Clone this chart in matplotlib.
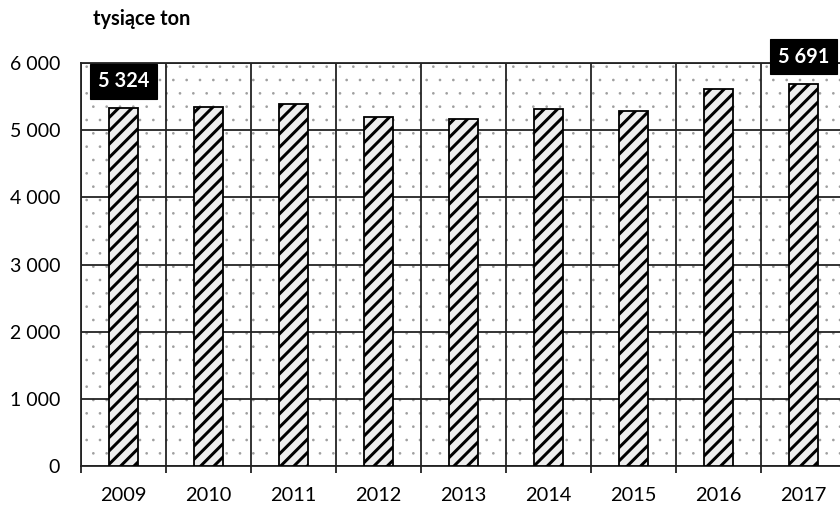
import matplotlib
matplotlib.use("Agg")
import matplotlib.pyplot as plt
from matplotlib.patches import Rectangle

# data
years = ["2009", "2010", "2011", "2012", "2013", "2014", "2015", "2016", "2017"]
values = [5324, 5350, 5390, 5200, 5160, 5320, 5285, 5615, 5691]
labelled = {0: "5 324", 8: "5 691"}
y_ticks = [0, 1000, 2000, 3000, 4000, 5000, 6000]
y_tick_labels = ["0", "1 000", "2 000", "3 000", "4 000", "5 000", "6 000"]

DPI = 80


def pt(px):
    # pixels -> points at the figure dpi
    return px * 72 / DPI


plt.rcParams["font.family"] = ["Lato", "DejaVu Sans"]
plt.rcParams["hatch.linewidth"] = pt(3)

fig = plt.figure(figsize=(840 / DPI, 508 / DPI), dpi=DPI)
ax = fig.add_axes([81 / 840, 42 / 508, 765 / 840, 403 / 508])

# dotted background of the plot area
bg = Rectangle((0, 0), 1, 1, transform=ax.transAxes, facecolor="white",
               edgecolor="#a0a0a0", hatch=".", linewidth=0, zorder=0)
try:
    bg.set_hatch_linewidth(0)
except AttributeError:
    pass
ax.add_patch(bg)

x = list(range(len(years)))
ax.bar(x, values, width=0.34, color="#eeeeee", edgecolor="black",
       hatch="//", linewidth=pt(1.8), zorder=3)

for i, txt in labelled.items():
    ax.annotate(txt, (x[i], values[i]), xytext=(0, pt(27)), textcoords="offset points",
                ha="center", va="center", color="white", fontsize=pt(20), fontweight="bold",
                bbox=dict(boxstyle="square,pad=0.38", facecolor="black", edgecolor="black"),
                zorder=5)

ax.set_xlim(-0.5, len(years) - 0.5)
ax.set_ylim(0, 6000)
ax.set_yticks(y_ticks)
ax.set_yticklabels(y_tick_labels, fontsize=pt(19.5))
ax.tick_params(axis="y", length=0, pad=pt(21))

# boundaries as major ticks, year labels as minor ticks
ax.set_xticks([i - 0.5 for i in range(len(years) + 1)])
ax.set_xticklabels([])
ax.set_xticks(x, minor=True)
ax.set_xticklabels(years, minor=True, fontsize=pt(20))
ax.tick_params(axis="x", which="major", length=pt(7), width=pt(1.8), color="#222222")
ax.tick_params(axis="x", which="minor", length=0, pad=pt(21))

ax.grid(True, which="major", color="#222222", linewidth=pt(1.8), zorder=1)
ax.set_axisbelow(True)
for s in ["top", "left", "bottom"]:
    ax.spines[s].set_linewidth(pt(1.8))
    ax.spines[s].set_color("#222222")
ax.spines["right"].set_visible(False)

fig.text(93 / 840, 1 - 19 / 508, "tysiące ton", fontsize=pt(20), fontweight="bold",
         ha="left", va="center")

fig.savefig("out.png", dpi=DPI)
